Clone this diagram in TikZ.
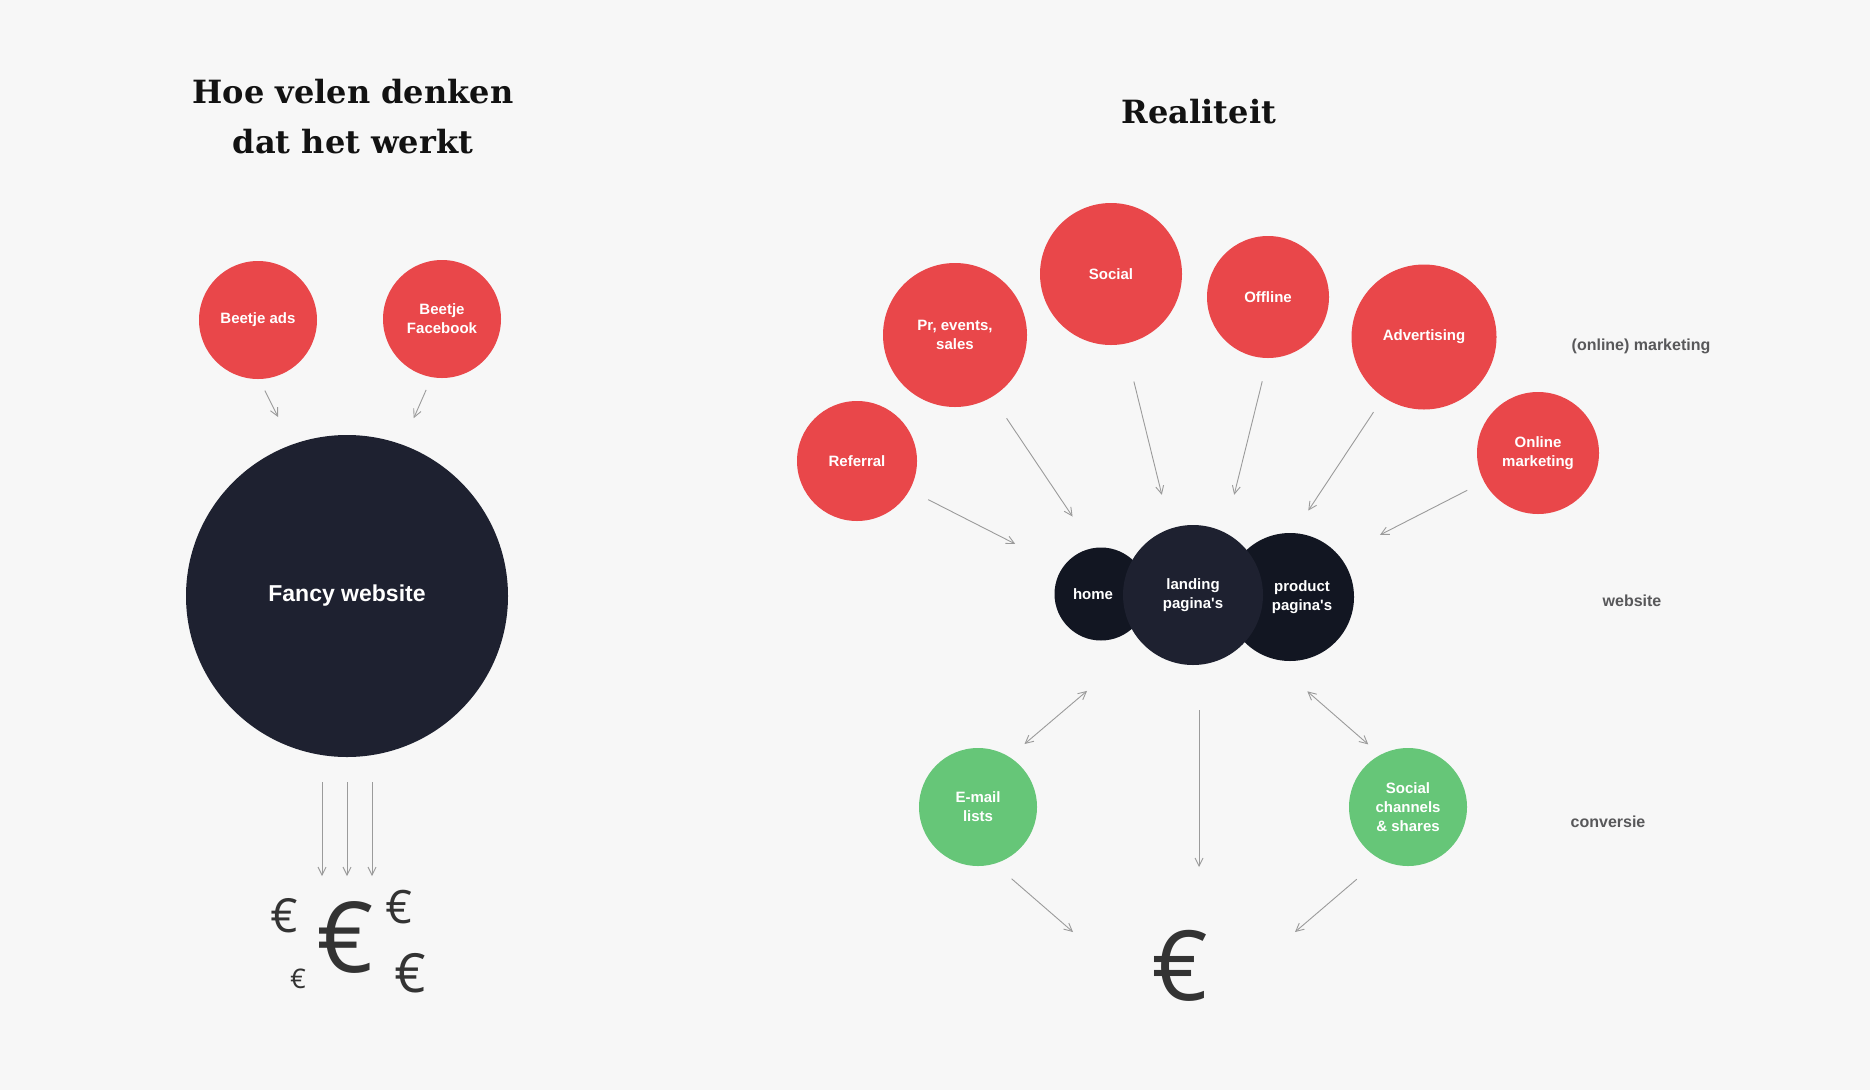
\documentclass[tikz,border=0pt]{standalone}
\usepackage{fontspec}
\setmainfont{Liberation Sans}
\newfontfamily\slabfont{DejaVu Serif}
\newfontfamily\moneyfont{Open Sans}
\usepackage{xcolor}
\usepackage{tikz}
\usetikzlibrary{arrows.meta}
\definecolor{funnelRed}{HTML}{E9474A}
\definecolor{funnelGreen}{HTML}{66C678}
\definecolor{funnelNight}{HTML}{1E2130}
\definecolor{funnelDeep}{HTML}{121622}
\definecolor{funnelGrey}{HTML}{9B9B9B}
\definecolor{funnelInk}{HTML}{333333}
\definecolor{funnelLabel}{HTML}{58585A}
\definecolor{funnelPaper}{HTML}{F7F7F7}
\tikzset{
  bubble/.style={
    circle,
    inner sep=0pt,
    outer sep=0pt,
    align=center,
    text=white,
    font=\fontsize{15}{19}\selectfont\bfseries
  },
  redBubble/.style={bubble, fill=funnelRed},
  greenBubble/.style={bubble, fill=funnelGreen},
  darkBubble/.style={bubble, fill=funnelNight},
  arrow/.style={
    -{Straight Barb[length=8pt,width=8pt]},
    line width=0.9pt,
    draw=funnelGrey
  },
  twoWay/.style={
    arrow,
    {Straight Barb[length=8pt,width=8pt]}-{Straight Barb[length=8pt,width=8pt]}
  },
  heading/.style={
    align=center,
    text=black!93,
    font=\fontsize{32}{50}\selectfont\slabfont\bfseries
  },
  layerLabel/.style={
    text=funnelLabel,
    font=\fontsize{16}{19}\selectfont\bfseries
  },
  euro/.style={inner sep=0pt, text=funnelInk}
}

\begin{document}
\begin{tikzpicture}[x=1pt,y=-1pt]
  \fill[funnelPaper] (0,0) rectangle (1870,1090);
  \useasboundingbox (0,0) rectangle (1870,1090);
  \node[heading] (belief) at (353,117) {Hoe velen denken\\dat het werkt};
  \node[heading] (reality) at (1199,112) {Realiteit};

  \node[redBubble,minimum size=118pt] (ads) at (258,320) {Beetje ads};
  \node[redBubble,minimum size=118pt] (facebook) at (442,319) {Beetje\\Facebook};
  \node[darkBubble,minimum size=322pt,font=\fontsize{23}{28}\selectfont\bfseries] (fancy) at (347,596) {Fancy website};
  \node[euro,font=\moneyfont\fontsize{98}{98}\selectfont] (bigEuro) at (345,937) {€};
  \node[euro,font=\moneyfont\fontsize{47}{47}\selectfont] (euroLeft) at (284,916) {€};
  \node[euro,font=\moneyfont\fontsize{27}{27}\selectfont] (euroTiny) at (298,979) {€};
  \node[euro,font=\moneyfont\fontsize{46}{46}\selectfont] (euroUp) at (399,907) {€};
  \node[euro,font=\moneyfont\fontsize{54}{54}\selectfont] (euroDown) at (410,973) {€};
  \coordinate (cashIn) at (347,876);
  \draw[arrow,shorten <=13pt,shorten >=31pt] (ads.-89) -- (fancy.110);
  \draw[arrow,shorten <=14pt,shorten >=29pt] (facebook.-100) -- (fancy.70);
  \foreach \dx in {-25,0,25}
    \draw[arrow,shorten <=25pt] ([xshift=\dx pt]fancy.south) -- ([xshift=\dx pt]cashIn);

  \node[redBubble,minimum size=120pt] (referral) at (857,461) {Referral};
  \node[redBubble,minimum size=144pt] (press) at (955,335) {Pr, events,\\sales};
  \node[redBubble,minimum size=142pt] (social) at (1111,274) {Social};
  \node[redBubble,minimum size=122pt] (offline) at (1268,297) {Offline};
  \node[redBubble,minimum size=145pt] (advertising) at (1424,337) {Advertising};
  \node[redBubble,minimum size=122pt] (online) at (1538,453) {Online\\marketing};
  \node[darkBubble,fill=funnelDeep,minimum size=93pt] (home) at (1101,594) {home\hspace*{16pt}};
  \node[darkBubble,fill=funnelDeep,minimum size=128pt] (product) at (1290,597) {\hspace*{24pt}product\\\hspace*{24pt}pagina\textquotesingle s};
  \node[darkBubble,minimum size=140pt] (landing) at (1193,595) {landing\\pagina\textquotesingle s};
  \node[greenBubble,minimum size=118pt] (email) at (978,807) {E-mail\\lists};
  \node[greenBubble,minimum size=118pt] (sharing) at (1408,807) {Social\\channels\\\& shares};
  \node[euro,font=\moneyfont\fontsize{97}{97}\selectfont] (resultEuro) at (1180,966) {€};
  \node[layerLabel] (marketingLabel) at (1641,346) {(online) marketing};
  \node[layerLabel] (websiteLabel) at (1632,601) {website};
  \node[layerLabel] (conversionLabel) at (1608,822) {conversie};

  \draw[arrow,shorten <=21pt,shorten >=53pt] (referral.-29) -- (home.146);
  \draw[arrow,shorten <=26pt,shorten >=38pt] (press.-59) -- (home.99);
  \draw[arrow,shorten <=39pt,shorten >=35pt] (social.-79) -- (landing.109);
  \draw[arrow,shorten <=24pt,shorten >=39pt] (offline.-90) -- (landing.63);
  \draw[arrow,shorten <=18pt,shorten >=27pt] (advertising.-124) -- (product.87);
  \draw[arrow,shorten <=19pt,shorten >=46pt] (online.-152) -- (product.40);
  \draw[twoWay,shorten <=20pt,shorten >=73pt] (email.58) -- (landing.-136);
  \draw[twoWay,shorten <=16pt,shorten >=52pt] (sharing.118) -- (product.-110);
  \coordinate (goal) at (1199,867);
  \coordinate (payLeft) at (1073,932);
  \coordinate (payRight) at (1295,932);
  \draw[arrow,shorten <=45pt] ([xshift=6pt]landing.south) -- (goal);
  \draw[arrow,shorten <=23pt] (email.-74) -- (payLeft);
  \draw[arrow,shorten <=31pt] (sharing.-118) -- (payRight);
\end{tikzpicture}
\end{document}
